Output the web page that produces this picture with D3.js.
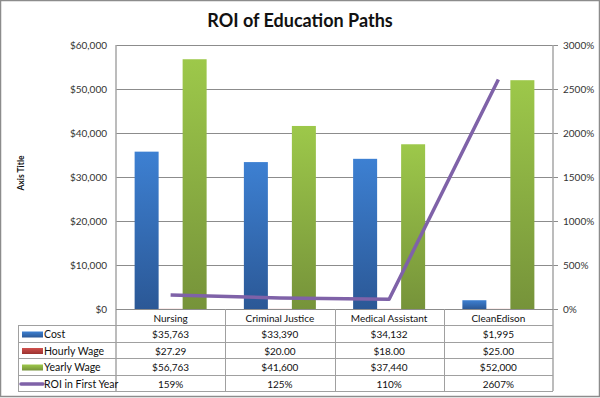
<!DOCTYPE html>
<html><head><meta charset="utf-8">
<script src="https://cdn.jsdelivr.net/npm/d3@7"></script>
<style>body{margin:0;background:#fff}svg{display:block}text{font-family:Lato,"Open Sans",sans-serif}</style>
</head><body><svg id="c" width="600" height="398"></svg>
<script>
const categories = ["Nursing", "Criminal Justice", "Medical Assistant", "CleanEdison"];
const cost = [35763, 33390, 34132, 1995];
const hourlyWage = [27.29, 20.00, 18.00, 25.00];
const yearlyWage = [56763, 41600, 37440, 52000];
const roiFirstYear = [159, 125, 110, 2607];
const seriesNames = ["Cost", "Hourly Wage", "Yearly Wage", "ROI in First Year"];
const leftTicks = [0, 10000, 20000, 30000, 40000, 50000, 60000];
const rightTicks = [0, 500, 1000, 1500, 2000, 2500, 3000];
const chartTitle = "ROI of Education Paths";
const axisTitle = "Axis Title";

const svg = d3.select("#c");
const W = 600, H = 398;
const L = 116, R = 553, T = 45, B = 309;

svg.append("rect").attr("x", 0.5).attr("y", 0.5).attr("width", W - 1).attr("height", H - 2)
  .attr("fill", "#fff").attr("stroke", "#8c8c8c").attr("stroke-width", 1.5);

const defs = svg.append("defs");
function grad(id, top, bot) {
  const g = defs.append("linearGradient").attr("id", id).attr("x1", 0).attr("y1", 0).attr("x2", 0).attr("y2", 1);
  g.append("stop").attr("offset", "0%").attr("stop-color", top);
  g.append("stop").attr("offset", "100%").attr("stop-color", bot);
}
grad("gBlue", "#3d80d2", "#2b5896");
grad("gRed", "#d0504d", "#9b3330");
grad("gGreen", "#9dc84a", "#76933a");
const fills = ["url(#gBlue)", "url(#gRed)", "url(#gGreen)"];

const x = d3.scaleBand().domain(categories).range([L, R]).paddingInner(0).paddingOuter(0);
const x1 = d3.scaleBand().domain([0, 1, 2]).range([0, x.bandwidth()]).paddingInner(0).paddingOuter(0.776);
const yL = d3.scaleLinear().domain([0, 60000]).range([B, T]);
const yR = d3.scaleLinear().domain([0, 3000]).range([B, T]);

// gridlines
svg.append("g").selectAll("line").data(leftTicks.slice(1)).join("line")
  .attr("x1", L).attr("x2", R).attr("y1", d => Math.round(yL(d)) + 0.5).attr("y2", d => Math.round(yL(d)) + 0.5)
  .attr("stroke", "#8c8c8c").attr("stroke-width", 1);

// left axis labels
const fmtL = d3.format("$,.0f");
svg.append("g").selectAll("text").data(leftTicks).join("text")
  .attr("x", 107).attr("y", d => yL(d)).attr("dy", "0.35em").attr("text-anchor", "end")
  .attr("font-size", 10).attr("fill", "#333").text(d => fmtL(d));

// right axis ticks & labels
svg.append("g").selectAll("line").data(rightTicks).join("line")
  .attr("x1", R).attr("x2", R + 5).attr("y1", d => Math.round(yR(d)) + 0.5).attr("y2", d => Math.round(yR(d)) + 0.5)
  .attr("stroke", "#8c8c8c");
svg.append("g").selectAll("text").data(rightTicks).join("text")
  .attr("x", 563).attr("y", d => yR(d)).attr("dy", "0.35em").attr("text-anchor", "start")
  .attr("font-size", 10).attr("fill", "#333").text(d => d + "%");

// bars
const barSeries = [cost, hourlyWage, yearlyWage];
barSeries.forEach((vals, si) => {
  svg.append("g").selectAll("rect").data(categories).join("rect")
    .attr("x", (c) => x(c) + x1(si))
    .attr("width", x1.bandwidth())
    .attr("y", (c, i) => yL(vals[i]))
    .attr("height", (c, i) => B - yL(vals[i]))
    .attr("fill", fills[si]);
});

// ROI line
const line = d3.line().x((d, i) => x(categories[i]) + x.bandwidth() / 2).y(d => yR(d));
svg.append("path").datum(roiFirstYear).attr("d", line).attr("fill", "none")
  .attr("stroke", "#7f62a8").attr("stroke-width", 3.5).attr("stroke-linejoin", "round");

// axes lines
svg.append("line").attr("x1", L).attr("x2", L).attr("y1", T).attr("y2", 391).attr("stroke", "#a6a6a6").attr("stroke-width", 1.5);
svg.append("line").attr("x1", R).attr("x2", R).attr("y1", T).attr("y2", 391).attr("stroke", "#a6a6a6").attr("stroke-width", 1.5);

// data table
const rowY = [309, 325, 342, 358, 375, 391];
const TL = 18;
svg.append("line").attr("x1", L).attr("x2", R).attr("y1", B + 0.5).attr("y2", B + 0.5).attr("stroke", "#8c8c8c");
svg.append("g").selectAll("line").data(rowY.slice(1)).join("line")
  .attr("x1", TL).attr("x2", R).attr("y1", d => d + 0.5).attr("y2", d => d + 0.5).attr("stroke", "#a0a0a0");
svg.append("line").attr("x1", TL + 0.5).attr("x2", TL + 0.5).attr("y1", rowY[1]).attr("y2", rowY[5]).attr("stroke", "#a0a0a0");
svg.append("g").selectAll("line").data(categories.slice(1)).join("line")
  .attr("x1", c => Math.round(x(c)) + 0.5).attr("x2", c => Math.round(x(c)) + 0.5)
  .attr("y1", B).attr("y2", rowY[5]).attr("stroke", "#a0a0a0");

// header
svg.append("g").selectAll("text").data(categories).join("text")
  .attr("x", c => x(c) + x.bandwidth() / 2).attr("y", (rowY[0] + rowY[1]) / 2 + 1).attr("dy", "0.35em")
  .attr("text-anchor", "middle").attr("font-size", 10).attr("fill", "#111").text(c => c);

const fmtCost = d3.format("$,.0f"), fmtWage = d3.format("$.2f");
const rows = [cost.map(fmtCost), hourlyWage.map(fmtWage), yearlyWage.map(fmtCost), roiFirstYear.map(d => d + "%")];
rows.forEach((r, ri) => {
  const cy = (rowY[ri + 1] + rowY[ri + 2]) / 2 + 1;
  svg.append("g").selectAll("text").data(r).join("text")
    .attr("x", (d, i) => x(categories[i]) + x.bandwidth() / 2).attr("y", cy).attr("dy", "0.35em")
    .attr("text-anchor", "middle").attr("font-size", 10).attr("fill", "#111").text(d => d);
  if (ri < 3) {
    svg.append("rect").attr("x", 22).attr("y", cy - 3).attr("width", 21).attr("height", 6).attr("fill", fills[ri]);
  } else {
    svg.append("line").attr("x1", 21).attr("x2", 43).attr("y1", cy).attr("y2", cy)
      .attr("stroke", "#7f62a8").attr("stroke-width", 3.5).attr("stroke-linecap", "round");
  }
  svg.append("text").attr("x", 44).attr("y", cy).attr("dy", "0.35em").attr("font-size", 10.5)
    .attr("fill", "#111").text(seriesNames[ri]);
});

// titles
svg.append("text").attr("x", 300).attr("y", 27).attr("text-anchor", "middle")
  .attr("font-size", 18).attr("font-weight", "bold").attr("fill", "#111").text(chartTitle);
svg.append("text").attr("transform", "translate(24,173) rotate(-90)").attr("text-anchor", "middle")
  .attr("font-size", 8.5).attr("font-weight", "bold").attr("fill", "#111").text(axisTitle);
</script></body></html>
